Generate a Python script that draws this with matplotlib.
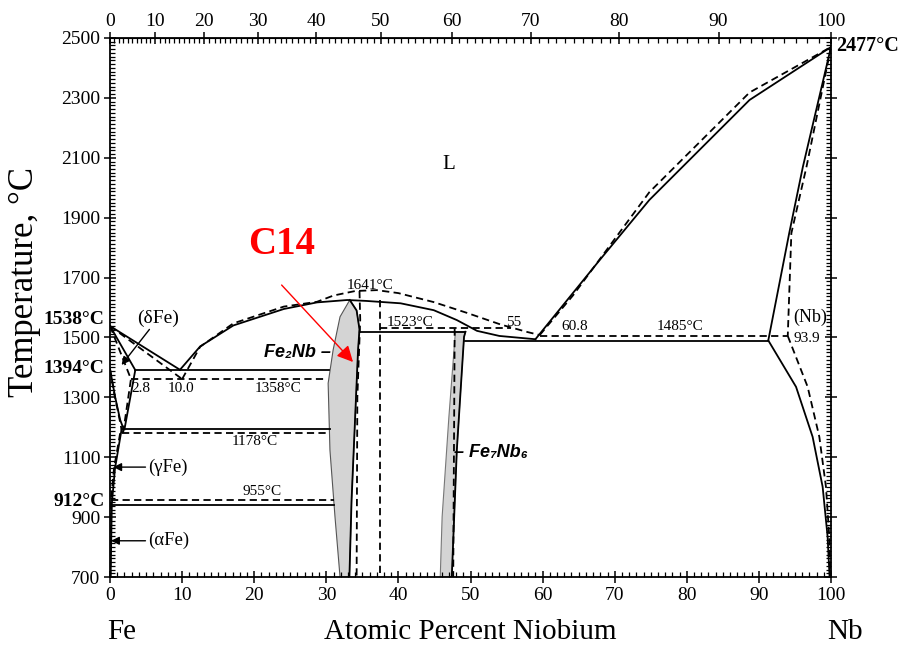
import matplotlib

matplotlib.use("Agg")
import matplotlib.pyplot as plt
import numpy as np
from matplotlib.ticker import AutoMinorLocator, MultipleLocator

# ---- boundaries (x = at.% Nb, t = deg C) ----
# solid lines
liq_fe_x = [0, 9.7]
liq_fe_t = [1538, 1392]
liq_c14_x = [9.7, 12.5, 17.1, 24.1, 28.7, 32.9, 35.5, 40.3, 44.9, 48.1, 50.9, 54.0, 59.0]
liq_c14_t = [1392, 1470, 1540, 1595, 1617, 1625, 1622, 1614, 1591, 1558, 1522, 1505, 1494]
liq_nb_x = [59.0, 67.9, 74.8, 88.7, 100]
liq_nb_t = [1494, 1758, 1959, 2293, 2470]
sol_nb_x = [100, 96.1, 94.2, 91.3]
sol_nb_t = [2470, 2070, 1848, 1490]
solv_nb_x = [91.3, 95.15, 97.45, 98.84, 99.53, 99.8]
solv_nb_t = [1490, 1335, 1168, 1001, 834, 700]
sol_d_x = [0, 3.5, 2.0]
sol_d_t = [1538, 1391, 1193]
gloop_x = [0, 0.7, 1.4, 1.9]
gloop_t = [1394, 1302, 1225, 1193]
solv_g_x = [1.6, 0.69, 0.25, 0.08]
solv_g_t = [1193, 1063, 946, 700]
iso_solid = [  # (x0, x1, t)
    (3.5, 30.4, 1391),
    (1.6, 30.5, 1193),
    (0.3, 31.0, 939),
    (34.7, 49.3, 1519),
    (49.3, 91.3, 1488),
]

# dashed lines (second assessment)
dliq_fe_x = [0, 10.0]
dliq_fe_t = [1538, 1361]
dsol_d_x = [0, 2.9, 1.8]
dsol_d_t = [1538, 1361, 1180]
dliq_c14_x = [10.0, 12.5, 17.1, 24.1, 28.7, 31.0, 34.0, 37.0, 40.0, 44.9, 49.5, 54.2, 57.9, 59.6]
dliq_c14_t = [1361, 1469, 1547, 1603, 1619, 1640, 1655, 1658, 1648, 1618, 1582, 1543, 1518, 1508]
dliq_nb_x = [59.6, 64.2, 74.8, 88.7, 100]
dliq_nb_t = [1508, 1640, 1985, 2318, 2470]
dsol_nb_x = [100, 96.6, 94.5, 94.0]
dsol_nb_t = [2470, 2070, 1848, 1505]
dsolv_nb_x = [94.0, 96.76, 98.38, 99.3, 99.76, 99.9]
dsolv_nb_t = [1505, 1335, 1168, 1001, 834, 700]
dgloop_x = [0, 0.6, 1.15, 1.7]
dgloop_t = [1394, 1310, 1247, 1180]
dsolv_g_x = [1.4, 0.55, 0.15, 0.05]
dsolv_g_t = [1180, 1063, 960, 700]
dc14_x = [34.6, 34.7, 34.3, 34.2]
dc14_t = [1655, 1560, 1300, 700]
dc14b_x = [37.5, 37.5]
dc14b_t = [1625, 700]
dmu_x = [47.8, 47.6]
dmu_t = [1530, 700]
iso_dashed = [
    (2.9, 30.0, 1361),
    (1.7, 30.4, 1180),
    (0.2, 31.0, 957),
    (37.5, 55.6, 1530),
    (59.6, 94.0, 1505),
]

# grey single-phase fields
c14_left_x = [33.25, 31.9, 30.94, 30.25, 30.5, 31.2, 31.9]
c14_left_t = [1625, 1569, 1458, 1347, 1124, 901, 700]
c14_right_x = [33.25, 34.2, 34.6, 34.4, 34.0, 33.5, 33.2]
c14_right_t = [1625, 1590, 1527, 1458, 1235, 957, 700]
mu_left_x = [47.9, 47.0, 46.06, 45.8]
mu_left_t = [1519, 1235, 901, 700]
mu_right_x = [49.3, 49.1, 48.1, 47.4]
mu_right_t = [1519, 1502, 1124, 700]

# labels (text, x, t)
small_labels = [
    ("1641°C", 36.0, 1672),
    ("1523°C", 41.6, 1551),
    ("55", 56.0, 1551),
    ("60.8", 64.4, 1535),
    ("1485°C", 79.0, 1538),
    ("93.9", 96.6, 1498),
    ("2.8", 4.3, 1331),
    ("10.0", 9.8, 1331),
    ("1358°C", 23.3, 1331),
    ("1178°C", 20.1, 1154),
    ("955°C", 21.1, 987),
]
left_bold = [("1538°C", 1560), ("1394°C", 1396), ("912°C", 952)]

M_FE, M_NB = 55.845, 92.906


def at2wt(x):
    x = np.asarray(x, dtype=float)
    with np.errstate(divide="ignore", invalid="ignore"):
        return 100 * x * M_NB / (x * M_NB + (100 - x) * M_FE)


def wt2at(w):
    w = np.asarray(w, dtype=float)
    with np.errstate(divide="ignore", invalid="ignore"):
        a = w / M_NB
        return 100 * a / (a + (100 - w) / M_FE)


plt.rcParams.update({
    "font.family": ["Liberation Serif", "DejaVu Serif"],
    "font.size": 14,
})

fig = plt.figure(figsize=(9.02, 6.46), dpi=100)
ax = fig.add_axes([0.1220, 0.1068, 0.7993, 0.8344])

lw = 1.3
dash = (0, (4, 2.4))

# grey fields
ax.fill(c14_left_x + c14_right_x[::-1], c14_left_t + c14_right_t[::-1],
        facecolor="#d4d4d4", edgecolor="#555555", linewidth=0.8, zorder=1)
ax.fill(mu_left_x + mu_right_x[::-1], mu_left_t + mu_right_t[::-1],
        facecolor="#d4d4d4", edgecolor="#777777", linewidth=0.8, zorder=1)
ax.plot(c14_right_x, c14_right_t, color="black", lw=lw, zorder=3)
ax.plot(mu_right_x, mu_right_t, color="black", lw=lw, zorder=3)

for xs, ts in [(liq_fe_x, liq_fe_t), (liq_c14_x, liq_c14_t), (liq_nb_x, liq_nb_t),
               (sol_nb_x, sol_nb_t), (solv_nb_x, solv_nb_t), (sol_d_x, sol_d_t),
               (gloop_x, gloop_t), (solv_g_x, solv_g_t)]:
    ax.plot(xs, ts, color="black", lw=lw, zorder=3)
for x0, x1, t in iso_solid:
    ax.plot([x0, x1], [t, t], color="black", lw=lw, zorder=3)

for xs, ts in [(dliq_fe_x, dliq_fe_t), (dsol_d_x, dsol_d_t), (dliq_c14_x, dliq_c14_t),
               (dliq_nb_x, dliq_nb_t), (dsol_nb_x, dsol_nb_t), (dsolv_nb_x, dsolv_nb_t),
               (dgloop_x, dgloop_t), (dsolv_g_x, dsolv_g_t), (dc14_x, dc14_t),
               (dc14b_x, dc14b_t), (dmu_x, dmu_t)]:
    ax.plot(xs, ts, color="black", lw=lw, ls=dash, zorder=3)
for x0, x1, t in iso_dashed:
    ax.plot([x0, x1], [t, t], color="black", lw=lw, ls=dash, zorder=3)

ax.set_xlim(0, 100)
ax.set_ylim(700, 2500)

# axes and ticks
ax.set_xticks(range(0, 101, 10))
ax.xaxis.set_minor_locator(MultipleLocator(1))
ax.set_yticks(range(700, 2501, 200))
ax.yaxis.set_minor_locator(AutoMinorLocator(16))
ax.tick_params(which="major", direction="inout", length=8, width=1.1,
               right=True, labelsize=14, pad=3)
ax.tick_params(which="minor", direction="in", length=3.5, width=0.9, right=True)
for sp in ax.spines.values():
    sp.set_linewidth(1.3)

sec = ax.secondary_xaxis("top", functions=(at2wt, wt2at))
sec.set_xticks(range(0, 101, 10))
sec.xaxis.set_minor_locator(MultipleLocator(1))
sec.tick_params(which="major", direction="inout", length=8, width=1.1, labelsize=14, pad=2)
sec.tick_params(which="minor", direction="in", length=3.5, width=0.9)

ax.set_xlabel("Atomic Percent Niobium", fontsize=21, va="center")
ax.xaxis.set_label_coords(0.5, -0.102)
ax.set_ylabel("Temperature, °C", fontsize=25, va="center")
ax.yaxis.set_label_coords(-0.118, 0.547)
ax.text(0.016, -0.102, "Fe", transform=ax.transAxes, fontsize=21, ha="center", va="center")
ax.text(1.019, -0.102, "Nb", transform=ax.transAxes, fontsize=21, ha="center", va="center")

# annotations
for txt, x, t in small_labels:
    ax.text(x, t, txt, fontsize=11, ha="center", va="center", zorder=5)
for txt, t in left_bold:
    ax.text(-0.8, t, txt, fontsize=14, weight="bold", ha="right", va="center", clip_on=False)
ax.text(100.7, 2473, "2477°C", fontsize=14.5, weight="bold", ha="left", va="center", clip_on=False)
ax.text(47.0, 2076, "L", fontsize=15, ha="center", va="center")
ax.text(97.1, 1567, "(Nb)", fontsize=13, ha="center", va="center")

arrow_k = dict(arrowstyle="-|>", color="black", lw=1.0, mutation_scale=12, shrinkA=0, shrinkB=0)
ax.annotate("(δFe)", xy=(1.6, 1408), xytext=(3.8, 1565), fontsize=14,
            ha="left", va="center", arrowprops=arrow_k)
ax.annotate("(γFe)", xy=(0.45, 1067), xytext=(5.3, 1067), fontsize=13.5,
            ha="left", va="center", arrowprops=arrow_k)
ax.annotate("(αFe)", xy=(0.14, 821), xytext=(5.3, 821), fontsize=13.5,
            ha="left", va="center", arrowprops=arrow_k)

sans = ["Liberation Sans", "DejaVu Sans"]
ax.text(21.3, 1451, "Fe₂Nb –", family=sans, fontsize=13, weight="bold", style="italic",
        ha="left", va="center", zorder=5)
ax.text(47.7, 1117, "– Fe₇Nb₆", family=sans, fontsize=13, weight="bold", style="italic",
        ha="left", va="center", zorder=5)

ax.text(23.8, 1809, "C14", color="red", fontsize=28, weight="bold", ha="center", va="center")
ax.annotate("", xy=(33.7, 1418), xytext=(23.8, 1675),
            arrowprops=dict(arrowstyle="-|>", color="red", lw=1.0, mutation_scale=24,
                            shrinkA=0, shrinkB=0), zorder=6)

fig.savefig("out.png", dpi=100)
